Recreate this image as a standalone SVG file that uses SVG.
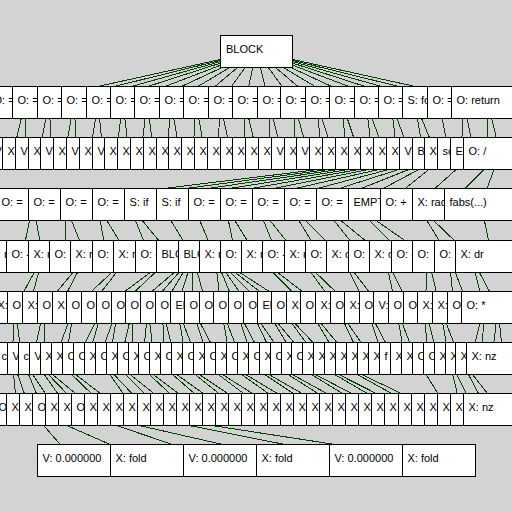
<svg xmlns="http://www.w3.org/2000/svg" xmlns:xlink="http://www.w3.org/1999/xlink" width="512" height="512" viewBox="0 0 512 512">
<style>
.n text{font-family:"Liberation Sans",Arial,sans-serif;font-size:11px;fill:#000}
#connectors path{fill:none;stroke:#053f05;stroke-width:1;shape-rendering:crispEdges}
</style>
<defs>
<rect id="b" x="0.5" y="0.5" width="73" height="32" fill="#fff" stroke="#000" shape-rendering="crispEdges"/>
</defs>
<rect width="512" height="512" fill="#d3d3d3"/>
<g id="connectors">
<path d="M256.5 51.5L25 102.5M256.5 51.5L49 102.5M256.5 51.5L74 102.5M256.5 51.5L98 102.5M256.5 51.5L123 102.5M256.5 51.5L147 102.5M256.5 51.5L171 102.5M256.5 51.5L196 102.5M256.5 51.5L220 102.5M256.5 51.5L245 102.5M256.5 51.5L269 102.5M256.5 51.5L294 102.5M256.5 51.5L317 102.5M256.5 51.5L342 102.5M256.5 51.5L366 102.5M256.5 51.5L391 102.5M256.5 51.5L415 102.5M256.5 51.5L439 102.5M256.5 51.5L464 102.5M256.5 51.5L488 102.5"/>
<path d="M25 102.5L13 153.5M25 102.5L26 153.5M49 102.5L39 153.5M49 102.5L52 153.5M74 102.5L65 153.5M74 102.5L77 153.5M98 102.5L90 153.5M98 102.5L103 153.5M123 102.5L116 153.5M123 102.5L129 153.5M147 102.5L141 153.5M147 102.5L154 153.5M171 102.5L167 153.5M171 102.5L180 153.5M196 102.5L193 153.5M196 102.5L205 153.5M220 102.5L218 153.5M220 102.5L231 153.5M245 102.5L244 153.5M245 102.5L257 153.5M269 102.5L269 153.5M269 102.5L282 153.5M294 102.5L295 153.5M294 102.5L308 153.5M317 102.5L321 153.5M317 102.5L333 153.5M342 102.5L346 153.5M342 102.5L359 153.5M366 102.5L372 153.5M366 102.5L385 153.5M391 102.5L397 153.5M391 102.5L410 153.5M415 102.5L423 153.5M415 102.5L436 153.5M439 102.5L449 153.5M464 102.5L461 153.5M464 102.5L474 153.5M488 102.5L487 153.5M488 102.5L500 153.5"/>
<path d="M449 153.5L33 204.5M449 153.5L65 204.5M449 153.5L97 204.5M449 153.5L129 204.5M449 153.5L161 204.5M449 153.5L193 204.5M449 153.5L225 204.5M449 153.5L257 204.5M449 153.5L289 204.5M449 153.5L321 204.5M449 153.5L353 204.5M449 153.5L385 204.5M474 153.5L417 204.5M500 153.5L449 204.5M500 153.5L481 204.5"/>
<path d="M33 204.5L22 256.5M33 204.5L43 256.5M65 204.5L65 256.5M65 204.5L86 256.5M97 204.5L107 256.5M97 204.5L129 256.5M129 204.5L150 256.5M129 204.5L172 256.5M161 204.5L193 256.5M193 204.5L215 256.5M225 204.5L236 256.5M225 204.5L257 256.5M257 204.5L278 256.5M257 204.5L299 256.5M289 204.5L321 256.5M289 204.5L342 256.5M321 204.5L363 256.5M321 204.5L385 256.5M353 204.5L406 256.5M353 204.5L428 256.5M417 204.5L449 256.5M417 204.5L471 256.5M481 204.5L492 256.5"/>
<path d="M43 256.5L15 307.5M43 256.5L29 307.5M86 256.5L44 307.5M86 256.5L59 307.5M129 256.5L74 307.5M129 256.5L89 307.5M172 256.5L103 307.5M172 256.5L118 307.5M193 256.5L133 307.5M193 256.5L148 307.5M193 256.5L162 307.5M193 256.5L177 307.5M193 256.5L192 307.5M193 256.5L207 307.5M215 256.5L221 307.5M215 256.5L236 307.5M215 256.5L250 307.5M215 256.5L265 307.5M215 256.5L280 307.5M215 256.5L294 307.5M257 256.5L308 307.5M257 256.5L323 307.5M299 256.5L337 307.5M299 256.5L352 307.5M342 256.5L367 307.5M342 256.5L381 307.5M385 256.5L396 307.5M385 256.5L410 307.5M428 256.5L425 307.5M428 256.5L440 307.5M449 256.5L454 307.5M449 256.5L469 307.5M471 256.5L484 307.5M471 256.5L498 307.5"/>
<path d="M15 307.5L12 358.5M15 307.5L22 358.5M44 307.5L33 358.5M44 307.5L44 358.5M74 307.5L55 358.5M74 307.5L66 358.5M103 307.5L77 358.5M103 307.5L88 358.5M118 307.5L99 358.5M118 307.5L110 358.5M133 307.5L121 358.5M133 307.5L132 358.5M148 307.5L143 358.5M148 307.5L154 358.5M162 307.5L165 358.5M162 307.5L175 358.5M177 307.5L186 358.5M177 307.5L197 358.5M192 307.5L208 358.5M192 307.5L219 358.5M221 307.5L230 358.5M221 307.5L241 358.5M236 307.5L252 358.5M236 307.5L263 358.5M250 307.5L274 358.5M250 307.5L285 358.5M265 307.5L296 358.5M265 307.5L307 358.5M280 307.5L318 358.5M280 307.5L328 358.5M308 307.5L339 358.5M308 307.5L350 358.5M337 307.5L361 358.5M337 307.5L372 358.5M367 307.5L383 358.5M367 307.5L394 358.5M396 307.5L405 358.5M396 307.5L416 358.5M425 307.5L427 358.5M425 307.5L438 358.5M440 307.5L449 358.5M440 307.5L460 358.5M484 307.5L471 358.5M484 307.5L482 358.5M498 307.5L492 358.5M498 307.5L503 358.5"/>
<path d="M12 358.5L17 409.5M12 358.5L30 409.5M22 358.5L43 409.5M22 358.5L56 409.5M33 358.5L69 409.5M33 358.5L82 409.5M33 358.5L95 409.5M55 358.5L108 409.5M55 358.5L121 409.5M99 358.5L134 409.5M99 358.5L147 409.5M110 358.5L160 409.5M110 358.5L174 409.5M132 358.5L187 409.5M132 358.5L200 409.5M154 358.5L213 409.5M154 358.5L226 409.5M175 358.5L239 409.5M175 358.5L252 409.5M197 358.5L265 409.5M197 358.5L278 409.5M219 358.5L291 409.5M219 358.5L304 409.5M241 358.5L317 409.5M241 358.5L330 409.5M263 358.5L343 409.5M263 358.5L356 409.5M285 358.5L369 409.5M285 358.5L382 409.5M307 358.5L395 409.5M307 358.5L408 409.5M328 358.5L421 409.5M328 358.5L435 409.5M416 358.5L448 409.5M449 358.5L461 409.5M449 358.5L474 409.5M460 358.5L487 409.5M460 358.5L500 409.5"/>
<path d="M30 409.5L74 460.5M30 409.5L147 460.5M69 409.5L220 460.5M69 409.5L293 460.5M108 409.5L366 460.5M108 409.5L439 460.5"/>
</g>
<g id="nodes">
<g id="n0-0" class="n"><rect x="220.5" y="35.5" width="72" height="32" fill="#fff" stroke="#000" shape-rendering="crispEdges"/><text x="226" y="53">BLOCK</text></g>
<g id="row1">
<g id="n1-0" class="n" transform="translate(-12 86)"><use href="#b"/><text x="5.5" y="18">O: =</text></g>
<g id="n1-1" class="n" transform="translate(12 86)"><use href="#b"/><text x="5.5" y="18">O: =</text></g>
<g id="n1-2" class="n" transform="translate(37 86)"><use href="#b"/><text x="5.5" y="18">O: =</text></g>
<g id="n1-3" class="n" transform="translate(61 86)"><use href="#b"/><text x="5.5" y="18">O: =</text></g>
<g id="n1-4" class="n" transform="translate(86 86)"><use href="#b"/><text x="5.5" y="18">O: =</text></g>
<g id="n1-5" class="n" transform="translate(110 86)"><use href="#b"/><text x="5.5" y="18">O: =</text></g>
<g id="n1-6" class="n" transform="translate(134 86)"><use href="#b"/><text x="5.5" y="18">O: =</text></g>
<g id="n1-7" class="n" transform="translate(159 86)"><use href="#b"/><text x="5.5" y="18">O: =</text></g>
<g id="n1-8" class="n" transform="translate(183 86)"><use href="#b"/><text x="5.5" y="18">O: =</text></g>
<g id="n1-9" class="n" transform="translate(208 86)"><use href="#b"/><text x="5.5" y="18">O: =</text></g>
<g id="n1-10" class="n" transform="translate(232 86)"><use href="#b"/><text x="5.5" y="18">O: =</text></g>
<g id="n1-11" class="n" transform="translate(257 86)"><use href="#b"/><text x="5.5" y="18">O: =</text></g>
<g id="n1-12" class="n" transform="translate(280 86)"><use href="#b"/><text x="5.5" y="18">O: =</text></g>
<g id="n1-13" class="n" transform="translate(305 86)"><use href="#b"/><text x="5.5" y="18">O: =</text></g>
<g id="n1-14" class="n" transform="translate(329 86)"><use href="#b"/><text x="5.5" y="18">O: =</text></g>
<g id="n1-15" class="n" transform="translate(354 86)"><use href="#b"/><text x="5.5" y="18">O: =</text></g>
<g id="n1-16" class="n" transform="translate(378 86)"><use href="#b"/><text x="5.5" y="18">O: =</text></g>
<g id="n1-17" class="n" transform="translate(402 86)"><use href="#b"/><text x="5.5" y="18">S: fo</text></g>
<g id="n1-18" class="n" transform="translate(427 86)"><use href="#b"/><text x="5.5" y="18">O: =</text></g>
<g id="n1-19" class="n" transform="translate(451 86)"><use href="#b"/><text x="5.5" y="18">O: return</text></g>
</g>
<g id="row2">
<g id="n2-0" class="n" transform="translate(-24 137)"><use href="#b"/><text x="5.5" y="18">X</text></g>
<g id="n2-1" class="n" transform="translate(-11 137)"><use href="#b"/><text x="5.5" y="18">V</text></g>
<g id="n2-2" class="n" transform="translate(2 137)"><use href="#b"/><text x="5.5" y="18">X</text></g>
<g id="n2-3" class="n" transform="translate(15 137)"><use href="#b"/><text x="5.5" y="18">V</text></g>
<g id="n2-4" class="n" transform="translate(28 137)"><use href="#b"/><text x="5.5" y="18">X</text></g>
<g id="n2-5" class="n" transform="translate(40 137)"><use href="#b"/><text x="5.5" y="18">V</text></g>
<g id="n2-6" class="n" transform="translate(53 137)"><use href="#b"/><text x="5.5" y="18">X</text></g>
<g id="n2-7" class="n" transform="translate(66 137)"><use href="#b"/><text x="5.5" y="18">V</text></g>
<g id="n2-8" class="n" transform="translate(79 137)"><use href="#b"/><text x="5.5" y="18">X</text></g>
<g id="n2-9" class="n" transform="translate(92 137)"><use href="#b"/><text x="5.5" y="18">V</text></g>
<g id="n2-10" class="n" transform="translate(104 137)"><use href="#b"/><text x="5.5" y="18">X</text></g>
<g id="n2-11" class="n" transform="translate(117 137)"><use href="#b"/><text x="5.5" y="18">X</text></g>
<g id="n2-12" class="n" transform="translate(130 137)"><use href="#b"/><text x="5.5" y="18">X</text></g>
<g id="n2-13" class="n" transform="translate(143 137)"><use href="#b"/><text x="5.5" y="18">X</text></g>
<g id="n2-14" class="n" transform="translate(156 137)"><use href="#b"/><text x="5.5" y="18">X</text></g>
<g id="n2-15" class="n" transform="translate(168 137)"><use href="#b"/><text x="5.5" y="18">X</text></g>
<g id="n2-16" class="n" transform="translate(181 137)"><use href="#b"/><text x="5.5" y="18">X</text></g>
<g id="n2-17" class="n" transform="translate(194 137)"><use href="#b"/><text x="5.5" y="18">X</text></g>
<g id="n2-18" class="n" transform="translate(207 137)"><use href="#b"/><text x="5.5" y="18">X</text></g>
<g id="n2-19" class="n" transform="translate(220 137)"><use href="#b"/><text x="5.5" y="18">X</text></g>
<g id="n2-20" class="n" transform="translate(232 137)"><use href="#b"/><text x="5.5" y="18">X</text></g>
<g id="n2-21" class="n" transform="translate(245 137)"><use href="#b"/><text x="5.5" y="18">X</text></g>
<g id="n2-22" class="n" transform="translate(258 137)"><use href="#b"/><text x="5.5" y="18">X</text></g>
<g id="n2-23" class="n" transform="translate(271 137)"><use href="#b"/><text x="5.5" y="18">V</text></g>
<g id="n2-24" class="n" transform="translate(284 137)"><use href="#b"/><text x="5.5" y="18">X</text></g>
<g id="n2-25" class="n" transform="translate(296 137)"><use href="#b"/><text x="5.5" y="18">V</text></g>
<g id="n2-26" class="n" transform="translate(309 137)"><use href="#b"/><text x="5.5" y="18">X</text></g>
<g id="n2-27" class="n" transform="translate(322 137)"><use href="#b"/><text x="5.5" y="18">X</text></g>
<g id="n2-28" class="n" transform="translate(335 137)"><use href="#b"/><text x="5.5" y="18">X</text></g>
<g id="n2-29" class="n" transform="translate(348 137)"><use href="#b"/><text x="5.5" y="18">X</text></g>
<g id="n2-30" class="n" transform="translate(360 137)"><use href="#b"/><text x="5.5" y="18">X</text></g>
<g id="n2-31" class="n" transform="translate(373 137)"><use href="#b"/><text x="5.5" y="18">X</text></g>
<g id="n2-32" class="n" transform="translate(386 137)"><use href="#b"/><text x="5.5" y="18">X</text></g>
<g id="n2-33" class="n" transform="translate(399 137)"><use href="#b"/><text x="5.5" y="18">V</text></g>
<g id="n2-34" class="n" transform="translate(412 137)"><use href="#b"/><text x="5.5" y="18">B</text></g>
<g id="n2-35" class="n" transform="translate(424 137)"><use href="#b"/><text x="5.5" y="18">X</text></g>
<g id="n2-36" class="n" transform="translate(437 137)"><use href="#b"/><text x="5.5" y="18">sc</text></g>
<g id="n2-37" class="n" transform="translate(450 137)"><use href="#b"/><text x="5.5" y="18">El</text></g>
<g id="n2-38" class="n" transform="translate(463 137)"><use href="#b"/><text x="5.5" y="18">O: /</text></g>
</g>
<g id="row3">
<g id="n3-0" class="n" transform="translate(-4 188)"><use href="#b"/><text x="5.5" y="18">O: =</text></g>
<g id="n3-1" class="n" transform="translate(28 188)"><use href="#b"/><text x="5.5" y="18">O: =</text></g>
<g id="n3-2" class="n" transform="translate(60 188)"><use href="#b"/><text x="5.5" y="18">O: =</text></g>
<g id="n3-3" class="n" transform="translate(92 188)"><use href="#b"/><text x="5.5" y="18">O: =</text></g>
<g id="n3-4" class="n" transform="translate(124 188)"><use href="#b"/><text x="5.5" y="18">S: if</text></g>
<g id="n3-5" class="n" transform="translate(156 188)"><use href="#b"/><text x="5.5" y="18">S: if</text></g>
<g id="n3-6" class="n" transform="translate(188 188)"><use href="#b"/><text x="5.5" y="18">O: =</text></g>
<g id="n3-7" class="n" transform="translate(220 188)"><use href="#b"/><text x="5.5" y="18">O: =</text></g>
<g id="n3-8" class="n" transform="translate(252 188)"><use href="#b"/><text x="5.5" y="18">O: =</text></g>
<g id="n3-9" class="n" transform="translate(284 188)"><use href="#b"/><text x="5.5" y="18">O: =</text></g>
<g id="n3-10" class="n" transform="translate(316 188)"><use href="#b"/><text x="5.5" y="18">O: =</text></g>
<g id="n3-11" class="n" transform="translate(348 188)"><use href="#b"/><text x="5.5" y="18">EMPT</text></g>
<g id="n3-12" class="n" transform="translate(380 188)"><use href="#b"/><text x="5.5" y="18">O: +</text></g>
<g id="n3-13" class="n" transform="translate(412 188)"><use href="#b"/><text x="5.5" y="18">X: rad</text></g>
<g id="n3-14" class="n" transform="translate(444 188)"><use href="#b"/><text x="5.5" y="18">fabs(...)</text></g>
</g>
<g id="row4">
<g id="n4-0" class="n" transform="translate(-15 240)"><use href="#b"/><text x="5.5" y="18">X: r</text></g>
<g id="n4-1" class="n" transform="translate(6 240)"><use href="#b"/><text x="5.5" y="18">O: -</text></g>
<g id="n4-2" class="n" transform="translate(28 240)"><use href="#b"/><text x="5.5" y="18">X: r</text></g>
<g id="n4-3" class="n" transform="translate(49 240)"><use href="#b"/><text x="5.5" y="18">O:</text></g>
<g id="n4-4" class="n" transform="translate(70 240)"><use href="#b"/><text x="5.5" y="18">X: r</text></g>
<g id="n4-5" class="n" transform="translate(92 240)"><use href="#b"/><text x="5.5" y="18">O:</text></g>
<g id="n4-6" class="n" transform="translate(113 240)"><use href="#b"/><text x="5.5" y="18">X: r</text></g>
<g id="n4-7" class="n" transform="translate(135 240)"><use href="#b"/><text x="5.5" y="18">O: -</text></g>
<g id="n4-8" class="n" transform="translate(156 240)"><use href="#b"/><text x="5.5" y="18">BLO</text></g>
<g id="n4-9" class="n" transform="translate(178 240)"><use href="#b"/><text x="5.5" y="18">BLO</text></g>
<g id="n4-10" class="n" transform="translate(199 240)"><use href="#b"/><text x="5.5" y="18">X: r</text></g>
<g id="n4-11" class="n" transform="translate(220 240)"><use href="#b"/><text x="5.5" y="18">O:</text></g>
<g id="n4-12" class="n" transform="translate(241 240)"><use href="#b"/><text x="5.5" y="18">X: r</text></g>
<g id="n4-13" class="n" transform="translate(262 240)"><use href="#b"/><text x="5.5" y="18">O: -</text></g>
<g id="n4-14" class="n" transform="translate(284 240)"><use href="#b"/><text x="5.5" y="18">X: r</text></g>
<g id="n4-15" class="n" transform="translate(305 240)"><use href="#b"/><text x="5.5" y="18">O:</text></g>
<g id="n4-16" class="n" transform="translate(326 240)"><use href="#b"/><text x="5.5" y="18">X: c</text></g>
<g id="n4-17" class="n" transform="translate(348 240)"><use href="#b"/><text x="5.5" y="18">O:</text></g>
<g id="n4-18" class="n" transform="translate(369 240)"><use href="#b"/><text x="5.5" y="18">X: c</text></g>
<g id="n4-19" class="n" transform="translate(391 240)"><use href="#b"/><text x="5.5" y="18">O: -</text></g>
<g id="n4-20" class="n" transform="translate(412 240)"><use href="#b"/><text x="5.5" y="18">O:</text></g>
<g id="n4-21" class="n" transform="translate(434 240)"><use href="#b"/><text x="5.5" y="18">O:</text></g>
<g id="n4-22" class="n" transform="translate(455 240)"><use href="#b"/><text x="5.5" y="18">X: dr</text></g>
</g>
<g id="row5">
<g id="n5-0" class="n" transform="translate(-22 291)"><use href="#b"/><text x="5.5" y="18">O</text></g>
<g id="n5-1" class="n" transform="translate(-8 291)"><use href="#b"/><text x="5.5" y="18">X:</text></g>
<g id="n5-2" class="n" transform="translate(7 291)"><use href="#b"/><text x="5.5" y="18">O</text></g>
<g id="n5-3" class="n" transform="translate(22 291)"><use href="#b"/><text x="5.5" y="18">X:</text></g>
<g id="n5-4" class="n" transform="translate(37 291)"><use href="#b"/><text x="5.5" y="18">O</text></g>
<g id="n5-5" class="n" transform="translate(52 291)"><use href="#b"/><text x="5.5" y="18">X:</text></g>
<g id="n5-6" class="n" transform="translate(66 291)"><use href="#b"/><text x="5.5" y="18">O</text></g>
<g id="n5-7" class="n" transform="translate(81 291)"><use href="#b"/><text x="5.5" y="18">O</text></g>
<g id="n5-8" class="n" transform="translate(96 291)"><use href="#b"/><text x="5.5" y="18">O</text></g>
<g id="n5-9" class="n" transform="translate(111 291)"><use href="#b"/><text x="5.5" y="18">O</text></g>
<g id="n5-10" class="n" transform="translate(125 291)"><use href="#b"/><text x="5.5" y="18">O</text></g>
<g id="n5-11" class="n" transform="translate(140 291)"><use href="#b"/><text x="5.5" y="18">O</text></g>
<g id="n5-12" class="n" transform="translate(155 291)"><use href="#b"/><text x="5.5" y="18">O</text></g>
<g id="n5-13" class="n" transform="translate(170 291)"><use href="#b"/><text x="5.5" y="18">El</text></g>
<g id="n5-14" class="n" transform="translate(184 291)"><use href="#b"/><text x="5.5" y="18">O</text></g>
<g id="n5-15" class="n" transform="translate(199 291)"><use href="#b"/><text x="5.5" y="18">O</text></g>
<g id="n5-16" class="n" transform="translate(213 291)"><use href="#b"/><text x="5.5" y="18">O</text></g>
<g id="n5-17" class="n" transform="translate(228 291)"><use href="#b"/><text x="5.5" y="18">O</text></g>
<g id="n5-18" class="n" transform="translate(243 291)"><use href="#b"/><text x="5.5" y="18">O</text></g>
<g id="n5-19" class="n" transform="translate(257 291)"><use href="#b"/><text x="5.5" y="18">El</text></g>
<g id="n5-20" class="n" transform="translate(271 291)"><use href="#b"/><text x="5.5" y="18">O</text></g>
<g id="n5-21" class="n" transform="translate(286 291)"><use href="#b"/><text x="5.5" y="18">X:</text></g>
<g id="n5-22" class="n" transform="translate(300 291)"><use href="#b"/><text x="5.5" y="18">O</text></g>
<g id="n5-23" class="n" transform="translate(315 291)"><use href="#b"/><text x="5.5" y="18">X:</text></g>
<g id="n5-24" class="n" transform="translate(330 291)"><use href="#b"/><text x="5.5" y="18">O</text></g>
<g id="n5-25" class="n" transform="translate(344 291)"><use href="#b"/><text x="5.5" y="18">X:</text></g>
<g id="n5-26" class="n" transform="translate(359 291)"><use href="#b"/><text x="5.5" y="18">O</text></g>
<g id="n5-27" class="n" transform="translate(373 291)"><use href="#b"/><text x="5.5" y="18">V:</text></g>
<g id="n5-28" class="n" transform="translate(388 291)"><use href="#b"/><text x="5.5" y="18">O</text></g>
<g id="n5-29" class="n" transform="translate(403 291)"><use href="#b"/><text x="5.5" y="18">O</text></g>
<g id="n5-30" class="n" transform="translate(417 291)"><use href="#b"/><text x="5.5" y="18">X:</text></g>
<g id="n5-31" class="n" transform="translate(432 291)"><use href="#b"/><text x="5.5" y="18">X:</text></g>
<g id="n5-32" class="n" transform="translate(447 291)"><use href="#b"/><text x="5.5" y="18">O</text></g>
<g id="n5-33" class="n" transform="translate(461 291)"><use href="#b"/><text x="5.5" y="18">O: *</text></g>
</g>
<g id="row6">
<g id="n6-0" class="n" transform="translate(-25 342)"><use href="#b"/><text x="5.5" y="18">O</text></g>
<g id="n6-1" class="n" transform="translate(-15 342)"><use href="#b"/><text x="5.5" y="18">O</text></g>
<g id="n6-2" class="n" transform="translate(-4 342)"><use href="#b"/><text x="5.5" y="18">c</text></g>
<g id="n6-3" class="n" transform="translate(7 342)"><use href="#b"/><text x="5.5" y="18">V</text></g>
<g id="n6-4" class="n" transform="translate(18 342)"><use href="#b"/><text x="5.5" y="18">c</text></g>
<g id="n6-5" class="n" transform="translate(29 342)"><use href="#b"/><text x="5.5" y="18">V</text></g>
<g id="n6-6" class="n" transform="translate(40 342)"><use href="#b"/><text x="5.5" y="18">X</text></g>
<g id="n6-7" class="n" transform="translate(51 342)"><use href="#b"/><text x="5.5" y="18">X</text></g>
<g id="n6-8" class="n" transform="translate(62 342)"><use href="#b"/><text x="5.5" y="18">O</text></g>
<g id="n6-9" class="n" transform="translate(73 342)"><use href="#b"/><text x="5.5" y="18">O</text></g>
<g id="n6-10" class="n" transform="translate(84 342)"><use href="#b"/><text x="5.5" y="18">X</text></g>
<g id="n6-11" class="n" transform="translate(95 342)"><use href="#b"/><text x="5.5" y="18">O</text></g>
<g id="n6-12" class="n" transform="translate(106 342)"><use href="#b"/><text x="5.5" y="18">X</text></g>
<g id="n6-13" class="n" transform="translate(117 342)"><use href="#b"/><text x="5.5" y="18">O</text></g>
<g id="n6-14" class="n" transform="translate(128 342)"><use href="#b"/><text x="5.5" y="18">X</text></g>
<g id="n6-15" class="n" transform="translate(138 342)"><use href="#b"/><text x="5.5" y="18">O</text></g>
<g id="n6-16" class="n" transform="translate(149 342)"><use href="#b"/><text x="5.5" y="18">X</text></g>
<g id="n6-17" class="n" transform="translate(160 342)"><use href="#b"/><text x="5.5" y="18">O</text></g>
<g id="n6-18" class="n" transform="translate(171 342)"><use href="#b"/><text x="5.5" y="18">X</text></g>
<g id="n6-19" class="n" transform="translate(182 342)"><use href="#b"/><text x="5.5" y="18">O</text></g>
<g id="n6-20" class="n" transform="translate(193 342)"><use href="#b"/><text x="5.5" y="18">X</text></g>
<g id="n6-21" class="n" transform="translate(204 342)"><use href="#b"/><text x="5.5" y="18">O</text></g>
<g id="n6-22" class="n" transform="translate(215 342)"><use href="#b"/><text x="5.5" y="18">X</text></g>
<g id="n6-23" class="n" transform="translate(226 342)"><use href="#b"/><text x="5.5" y="18">O</text></g>
<g id="n6-24" class="n" transform="translate(237 342)"><use href="#b"/><text x="5.5" y="18">X</text></g>
<g id="n6-25" class="n" transform="translate(248 342)"><use href="#b"/><text x="5.5" y="18">O</text></g>
<g id="n6-26" class="n" transform="translate(259 342)"><use href="#b"/><text x="5.5" y="18">X</text></g>
<g id="n6-27" class="n" transform="translate(270 342)"><use href="#b"/><text x="5.5" y="18">O</text></g>
<g id="n6-28" class="n" transform="translate(281 342)"><use href="#b"/><text x="5.5" y="18">X</text></g>
<g id="n6-29" class="n" transform="translate(291 342)"><use href="#b"/><text x="5.5" y="18">O</text></g>
<g id="n6-30" class="n" transform="translate(302 342)"><use href="#b"/><text x="5.5" y="18">X</text></g>
<g id="n6-31" class="n" transform="translate(313 342)"><use href="#b"/><text x="5.5" y="18">X</text></g>
<g id="n6-32" class="n" transform="translate(324 342)"><use href="#b"/><text x="5.5" y="18">X</text></g>
<g id="n6-33" class="n" transform="translate(335 342)"><use href="#b"/><text x="5.5" y="18">X</text></g>
<g id="n6-34" class="n" transform="translate(346 342)"><use href="#b"/><text x="5.5" y="18">X</text></g>
<g id="n6-35" class="n" transform="translate(357 342)"><use href="#b"/><text x="5.5" y="18">X</text></g>
<g id="n6-36" class="n" transform="translate(368 342)"><use href="#b"/><text x="5.5" y="18">X</text></g>
<g id="n6-37" class="n" transform="translate(379 342)"><use href="#b"/><text x="5.5" y="18">f</text></g>
<g id="n6-38" class="n" transform="translate(390 342)"><use href="#b"/><text x="5.5" y="18">X</text></g>
<g id="n6-39" class="n" transform="translate(401 342)"><use href="#b"/><text x="5.5" y="18">X</text></g>
<g id="n6-40" class="n" transform="translate(412 342)"><use href="#b"/><text x="5.5" y="18">O</text></g>
<g id="n6-41" class="n" transform="translate(423 342)"><use href="#b"/><text x="5.5" y="18">O</text></g>
<g id="n6-42" class="n" transform="translate(434 342)"><use href="#b"/><text x="5.5" y="18">X</text></g>
<g id="n6-43" class="n" transform="translate(445 342)"><use href="#b"/><text x="5.5" y="18">X</text></g>
<g id="n6-44" class="n" transform="translate(455 342)"><use href="#b"/><text x="5.5" y="18">X</text></g>
<g id="n6-45" class="n" transform="translate(466 342)"><use href="#b"/><text x="5.5" y="18">X: nz</text></g>
</g>
<g id="row7">
<g id="n7-0" class="n" transform="translate(-20 393)"><use href="#b"/><text x="5.5" y="18">O</text></g>
<g id="n7-1" class="n" transform="translate(-7 393)"><use href="#b"/><text x="5.5" y="18">O</text></g>
<g id="n7-2" class="n" transform="translate(6 393)"><use href="#b"/><text x="5.5" y="18">X</text></g>
<g id="n7-3" class="n" transform="translate(19 393)"><use href="#b"/><text x="5.5" y="18">X</text></g>
<g id="n7-4" class="n" transform="translate(32 393)"><use href="#b"/><text x="5.5" y="18">O</text></g>
<g id="n7-5" class="n" transform="translate(45 393)"><use href="#b"/><text x="5.5" y="18">X</text></g>
<g id="n7-6" class="n" transform="translate(58 393)"><use href="#b"/><text x="5.5" y="18">X:</text></g>
<g id="n7-7" class="n" transform="translate(71 393)"><use href="#b"/><text x="5.5" y="18">O</text></g>
<g id="n7-8" class="n" transform="translate(84 393)"><use href="#b"/><text x="5.5" y="18">X</text></g>
<g id="n7-9" class="n" transform="translate(97 393)"><use href="#b"/><text x="5.5" y="18">X</text></g>
<g id="n7-10" class="n" transform="translate(110 393)"><use href="#b"/><text x="5.5" y="18">X</text></g>
<g id="n7-11" class="n" transform="translate(123 393)"><use href="#b"/><text x="5.5" y="18">X</text></g>
<g id="n7-12" class="n" transform="translate(137 393)"><use href="#b"/><text x="5.5" y="18">X</text></g>
<g id="n7-13" class="n" transform="translate(150 393)"><use href="#b"/><text x="5.5" y="18">X</text></g>
<g id="n7-14" class="n" transform="translate(163 393)"><use href="#b"/><text x="5.5" y="18">X:</text></g>
<g id="n7-15" class="n" transform="translate(176 393)"><use href="#b"/><text x="5.5" y="18">X</text></g>
<g id="n7-16" class="n" transform="translate(189 393)"><use href="#b"/><text x="5.5" y="18">X</text></g>
<g id="n7-17" class="n" transform="translate(202 393)"><use href="#b"/><text x="5.5" y="18">X</text></g>
<g id="n7-18" class="n" transform="translate(215 393)"><use href="#b"/><text x="5.5" y="18">X</text></g>
<g id="n7-19" class="n" transform="translate(228 393)"><use href="#b"/><text x="5.5" y="18">X</text></g>
<g id="n7-20" class="n" transform="translate(241 393)"><use href="#b"/><text x="5.5" y="18">X</text></g>
<g id="n7-21" class="n" transform="translate(254 393)"><use href="#b"/><text x="5.5" y="18">X</text></g>
<g id="n7-22" class="n" transform="translate(267 393)"><use href="#b"/><text x="5.5" y="18">X:</text></g>
<g id="n7-23" class="n" transform="translate(280 393)"><use href="#b"/><text x="5.5" y="18">X</text></g>
<g id="n7-24" class="n" transform="translate(293 393)"><use href="#b"/><text x="5.5" y="18">X</text></g>
<g id="n7-25" class="n" transform="translate(306 393)"><use href="#b"/><text x="5.5" y="18">X</text></g>
<g id="n7-26" class="n" transform="translate(319 393)"><use href="#b"/><text x="5.5" y="18">X</text></g>
<g id="n7-27" class="n" transform="translate(332 393)"><use href="#b"/><text x="5.5" y="18">X</text></g>
<g id="n7-28" class="n" transform="translate(345 393)"><use href="#b"/><text x="5.5" y="18">X</text></g>
<g id="n7-29" class="n" transform="translate(358 393)"><use href="#b"/><text x="5.5" y="18">X</text></g>
<g id="n7-30" class="n" transform="translate(371 393)"><use href="#b"/><text x="5.5" y="18">X:</text></g>
<g id="n7-31" class="n" transform="translate(384 393)"><use href="#b"/><text x="5.5" y="18">X</text></g>
<g id="n7-32" class="n" transform="translate(398 393)"><use href="#b"/><text x="5.5" y="18">X</text></g>
<g id="n7-33" class="n" transform="translate(411 393)"><use href="#b"/><text x="5.5" y="18">X</text></g>
<g id="n7-34" class="n" transform="translate(424 393)"><use href="#b"/><text x="5.5" y="18">X</text></g>
<g id="n7-35" class="n" transform="translate(437 393)"><use href="#b"/><text x="5.5" y="18">X</text></g>
<g id="n7-36" class="n" transform="translate(450 393)"><use href="#b"/><text x="5.5" y="18">X</text></g>
<g id="n7-37" class="n" transform="translate(463 393)"><use href="#b"/><text x="5.5" y="18">X: nz</text></g>
</g>
<g id="row8">
<g id="n8-0" class="n" transform="translate(37 444)"><use href="#b"/><text x="5.5" y="18">V: 0.000000</text></g>
<g id="n8-1" class="n" transform="translate(110 444)"><use href="#b"/><text x="5.5" y="18">X: fold</text></g>
<g id="n8-2" class="n" transform="translate(183 444)"><use href="#b"/><text x="5.5" y="18">V: 0.000000</text></g>
<g id="n8-3" class="n" transform="translate(256 444)"><use href="#b"/><text x="5.5" y="18">X: fold</text></g>
<g id="n8-4" class="n" transform="translate(329 444)"><use href="#b"/><text x="5.5" y="18">V: 0.000000</text></g>
<g id="n8-5" class="n" transform="translate(402 444)"><use href="#b"/><text x="5.5" y="18">X: fold</text></g>
</g>
</g>
</svg>
